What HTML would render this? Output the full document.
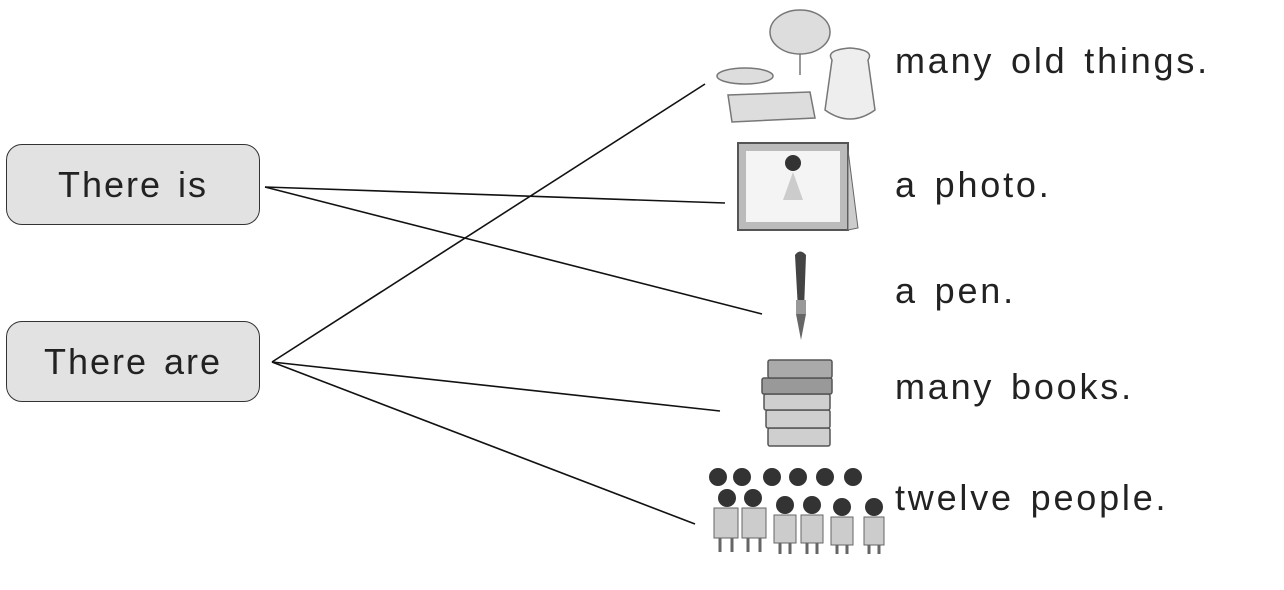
<!DOCTYPE html>
<html><head><meta charset="utf-8"><style>
html,body{margin:0;padding:0;background:#fff;}
body{width:1284px;height:590px;position:relative;overflow:hidden;font-family:"Liberation Sans",sans-serif;}
.box{position:absolute;left:6px;width:252px;height:79px;border:1.5px solid #333;border-radius:16px;background:#e2e2e2;font-size:36px;color:#222;text-align:center;line-height:79px;word-spacing:4px;letter-spacing:2px;}
.t{position:absolute;left:895px;font-size:36px;color:#222;word-spacing:4px;letter-spacing:2.8px;}
svg{position:absolute;left:0;top:0;}
</style></head><body>
<svg width="1284" height="590">
<g stroke="#111" stroke-width="1.6" fill="none">
<line x1="265" y1="187" x2="725" y2="203"/>
<line x1="265" y1="187" x2="762" y2="314"/>
<line x1="272" y1="362" x2="705" y2="84"/>
<line x1="272" y1="362" x2="720" y2="411"/>
<line x1="272" y1="362" x2="695" y2="524"/>
</g>
<g stroke="#777" fill="#ddd" stroke-width="1.5">
<ellipse cx="800" cy="32" rx="30" ry="22"/>
<line x1="800" y1="54" x2="800" y2="75"/>
<ellipse cx="745" cy="76" rx="28" ry="8"/>
<path d="M728 95 L810 92 L815 118 L732 122 Z"/>
<path d="M832 60 Q825 50 850 48 Q875 50 868 60 L875 110 Q850 128 825 110 Z" fill="#eee"/>
</g>
<rect x="738" y="143" width="110" height="87" fill="#bbb" stroke="#555" stroke-width="2"/>
<rect x="746" y="151" width="94" height="71" fill="#f4f4f4"/>
<path d="M848 150 L858 228 L848 230Z" fill="#ccc" stroke="#666"/>
<circle cx="793" cy="163" r="8" fill="#333"/>
<path d="M783 200 L793 172 L803 200 Z" fill="#ccc"/>
<path d="M795 255 Q800 248 806 255 L804 310 L798 310 Z" fill="#444"/>
<rect x="796" y="300" width="10" height="14" fill="#999"/>
<path d="M796 314 L806 314 L801 340 Z" fill="#666"/>
<g stroke="#555" fill="#cfcfcf" stroke-width="1.5">
<rect x="768" y="428" width="62" height="18" rx="2"/>
<rect x="766" y="410" width="64" height="18" rx="2"/>
<rect x="764" y="394" width="66" height="16" rx="2"/>
<rect x="762" y="378" width="70" height="16" rx="2" fill="#999"/>
<rect x="768" y="360" width="64" height="18" rx="2" fill="#aaa"/>
</g>
<g fill="#333">
<circle cx="718" cy="477" r="9"/><circle cx="742" cy="477" r="9"/><circle cx="772" cy="477" r="9"/><circle cx="798" cy="477" r="9"/><circle cx="825" cy="477" r="9"/><circle cx="853" cy="477" r="9"/>
<circle cx="727" cy="498" r="9"/><circle cx="753" cy="498" r="9"/><circle cx="785" cy="505" r="9"/><circle cx="812" cy="505" r="9"/><circle cx="842" cy="507" r="9"/><circle cx="874" cy="507" r="9"/>
</g>
<g fill="#ccc" stroke="#666">
<rect x="714" y="508" width="24" height="30"/><rect x="742" y="508" width="24" height="30"/><rect x="774" y="515" width="22" height="28"/><rect x="801" y="515" width="22" height="28"/><rect x="831" y="517" width="22" height="28"/><rect x="864" y="517" width="20" height="28"/>
</g>
<g stroke="#666" stroke-width="3">
<line x1="720" y1="538" x2="720" y2="552"/><line x1="732" y1="538" x2="732" y2="552"/><line x1="748" y1="538" x2="748" y2="552"/><line x1="760" y1="538" x2="760" y2="552"/><line x1="780" y1="543" x2="780" y2="554"/><line x1="790" y1="543" x2="790" y2="554"/><line x1="807" y1="543" x2="807" y2="554"/><line x1="817" y1="543" x2="817" y2="554"/><line x1="837" y1="545" x2="837" y2="554"/><line x1="847" y1="545" x2="847" y2="554"/><line x1="869" y1="545" x2="869" y2="554"/><line x1="879" y1="545" x2="879" y2="554"/>
</g>
</svg>
<div class="box" style="top:144px">There is</div>
<div class="box" style="top:321px">There are</div>
<div class="t" style="top:40px">many old things.</div>
<div class="t" style="top:164px">a photo.</div>
<div class="t" style="top:270px">a pen.</div>
<div class="t" style="top:366px">many books.</div>
<div class="t" style="top:477px">twelve people.</div>
</body></html>
